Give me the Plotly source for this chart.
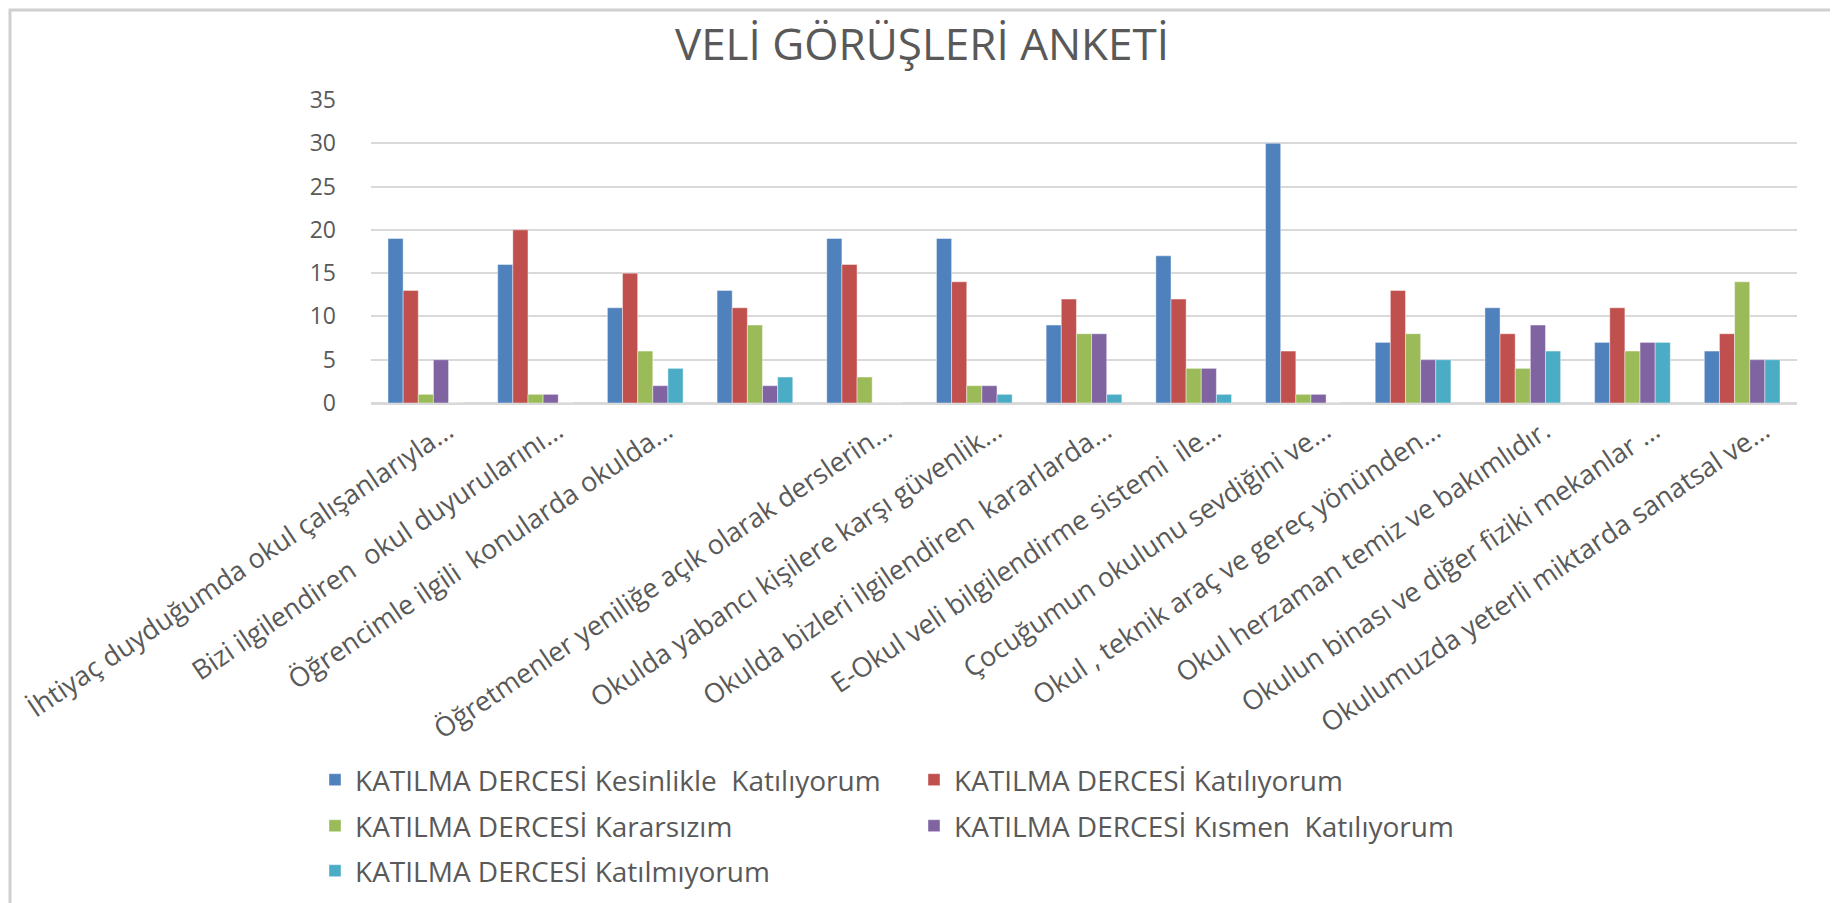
import plotly.graph_objects as go

categories = [
    "İhtiyaç duyduğumda okul çalışanlarıyla…",
    "Bizi ilgilendiren  okul duyurularını…",
    "Öğrencimle ilgili  konularda okulda…",
    "",
    "Öğretmenler yeniliğe açık olarak derslerin…",
    "Okulda yabancı kişilere karşı güvenlik…",
    "Okulda bizleri ilgilendiren  kararlarda…",
    "E-Okul veli bilgilendirme sistemi  ile…",
    "Çocuğumun okulunu sevdiğini ve…",
    "Okul , teknik araç ve gereç yönünden…",
    "Okul herzaman temiz ve bakımlıdır.",
    "Okulun binası ve diğer fiziki mekanlar …",
    "Okulumuzda yeterli miktarda sanatsal ve…",
]

series_names = [
    "KATILMA DERCESİ Kesinlikle  Katılıyorum",
    "KATILMA DERCESİ Katılıyorum",
    "KATILMA DERCESİ Kararsızım",
    "KATILMA DERCESİ Kısmen  Katılıyorum",
    "KATILMA DERCESİ Katılmıyorum",
]

kesinlikle = [19, 16, 11, 13, 19, 19, 9, 17, 30, 7, 11, 7, 6]
katiliyorum = [13, 20, 15, 11, 16, 14, 12, 12, 6, 13, 8, 11, 8]
kararsizim = [1, 1, 6, 9, 3, 2, 8, 4, 1, 8, 4, 6, 14]
kismen = [5, 1, 2, 2, 0, 2, 8, 4, 1, 5, 9, 7, 5]
katilmiyorum = [0, 0, 4, 3, 0, 1, 1, 1, 0, 5, 6, 7, 5]

colors = ["#4F81BD", "#C0504D", "#9BBB59", "#8064A2", "#4BACC6"]
legend_ids = ["legend", "legend", "legend2", "legend2", "legend3"]

W, H = 1838, 903
OFF = 8  # page body margin
# target screen-pixel layout of the plot area
L = 371 - OFF
R = W - (1797 - OFF)
T = 100 - OFF
B = H - (403 - OFF)
pw, ph = W - L - R, H - T - B

x_idx = list(range(len(categories)))
all_values = [kesinlikle, katiliyorum, kararsizim, kismen, katilmiyorum]

fig = go.Figure()
for name, vals, col, lg in zip(series_names, all_values, colors, legend_ids):
    fig.add_trace(go.Bar(
        x=x_idx, y=vals, name=name, legend=lg,
        marker=dict(color=col, line=dict(color="rgba(255,255,255,0.7)", width=0.6)),
    ))

txt = "#595959"
font_family = "Open Sans"

def py(pix):
    return (T + ph - (pix - OFF)) / ph

def px(pix):
    return ((pix - OFF) - L) / pw

legend_common = dict(
    orientation="h", xanchor="left", yanchor="middle",
    entrywidth=554, entrywidthmode="pixels",
    font=dict(family=font_family, size=28, color=txt),
    bgcolor="rgba(0,0,0,0)", itemclick=False,
)

fig.update_layout(
    width=W, height=H,
    margin=dict(l=L, r=R, t=T, b=B, autoexpand=False),
    paper_bgcolor="white", plot_bgcolor="white",
    barmode="group", bargap=0.31, bargroupgap=0,
    title=dict(text="VELİ GÖRÜŞLERİ ANKETİ", x=(922 - OFF) / W, xanchor="center",
               y=1 - (45 - OFF) / H, yanchor="middle",
               font=dict(family=font_family, size=44, color=txt)),
    legend=dict(x=px(332 - 17), y=py(780), **legend_common),
    legend2=dict(x=px(332 - 17), y=py(826), **legend_common),
    legend3=dict(x=px(332 - 17), y=py(871), **legend_common),
    xaxis=dict(
        tickmode="array", tickvals=x_idx, ticktext=categories,
        tickangle=-34, range=[-0.5, len(categories) - 0.5],
        showgrid=False, showline=True, linecolor="#D9D9D9", linewidth=2,
        ticks="", ticklabelshift=22,
        tickfont=dict(family=font_family, size=27, color=txt),
    ),
    yaxis=dict(
        range=[0, 35], dtick=5, showgrid=True, gridcolor="#D9D9D9", gridwidth=2,
        zeroline=True, zerolinecolor="#D9D9D9", zerolinewidth=2,
        showline=False, ticks="", ticklabelstandoff=34,
        tickfont=dict(family=font_family, size=23, color=txt),
    ),
    shapes=[dict(
        type="rect", xref="paper", yref="paper",
        x0=px(OFF + 2), x1=px(1836), y0=py(920), y1=py(OFF + 2),
        line=dict(color="#D0D0D0", width=3), fillcolor="rgba(0,0,0,0)", layer="below",
    )],
)

fig.write_html("out.html")
